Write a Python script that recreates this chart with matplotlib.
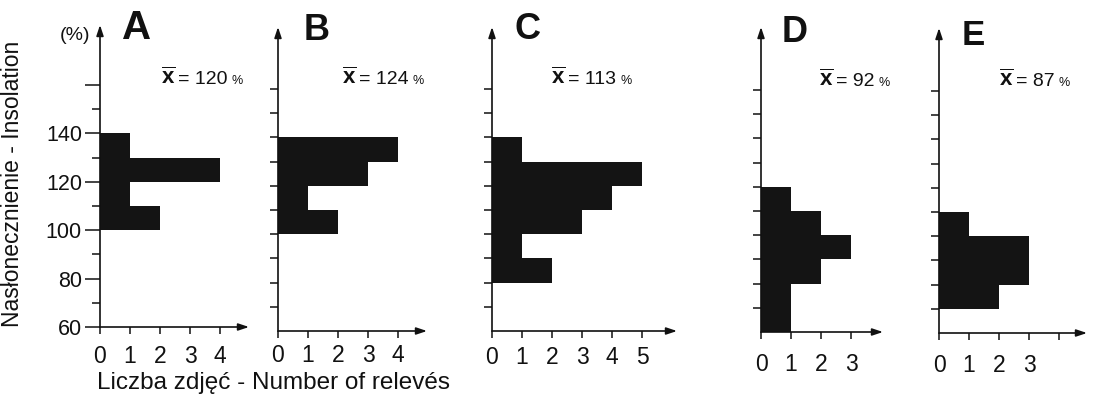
import matplotlib
matplotlib.use("Agg")
import matplotlib.pyplot as plt
from matplotlib.patches import ArrowStyle

plt.rcParams['font.family'] = ['Liberation Sans', 'DejaVu Sans']
plt.rcParams['mathtext.fontset'] = 'custom'
plt.rcParams['mathtext.bf'] = 'Liberation Sans:bold'
plt.rcParams['mathtext.rm'] = 'Liberation Sans'

# ---------------- data ----------------
panel_names = ["A", "B", "C", "D", "E"]
bins_A = [100, 110, 120, 130]
counts_A = [2, 1, 4, 1]
bins_B = [100, 110, 120, 130]
counts_B = [2, 1, 3, 4]
bins_C = [80, 90, 100, 110, 120, 130]
counts_C = [2, 1, 3, 4, 5, 1]
bins_D = [60, 70, 80, 90, 100, 110]
counts_D = [1, 1, 2, 3, 2, 1]
bins_E = [70, 80, 90, 100]
counts_E = [2, 3, 3, 1]
means = [120, 124, 113, 92, 87]
bin_width = 10

xticks_A = [0, 1, 2, 3, 4]
xticks_B = [0, 1, 2, 3, 4]
xticks_C = [0, 1, 2, 3, 4, 5]
xticks_D = [0, 1, 2, 3]
xticks_E = [0, 1, 2, 3, 4]
xticklabels_A = ["0", "1", "2", "3", "4"]
xticklabels_B = ["0", "1", "2", "3", "4"]
xticklabels_C = ["0", "1", "2", "3", "4", "5"]
xticklabels_D = ["0", "1", "2", "3"]
xticklabels_E = ["0", "1", "2", "3", ""]

ytick_major_A = [60, 80, 100, 120, 140, 160]
ytick_labels_A = ["60", "80", "100", "120", "140", ""]
ytick_minor_A = [70, 90, 110, 130, 150]
ytick_other = [70, 80, 90, 100, 110, 120, 130, 140, 150, 160]

ylabel = "Nasłonecznienie - Insolation"
xlabel = "Liczba zdjęć - Number of relevés"
unit_label = "(%)"

bins_all = [bins_A, bins_B, bins_C, bins_D, bins_E]
counts_all = [counts_A, counts_B, counts_C, counts_D, counts_E]
xticks_all = [xticks_A, xticks_B, xticks_C, xticks_D, xticks_E]
xtl_all = [xticklabels_A, xticklabels_B, xticklabels_C, xticklabels_D, xticklabels_E]

# ---------------- layout (pixels) ----------------
W, H = 1094, 397
Y0 = 60.0
XS = 30.0    # px per count
YS = 2.42    # px per percent
# origin x, origin y, x-arrow end, y-arrow top
geom = [
    (100, 327, 249, 25),
    (278, 331, 427, 27),
    (492, 331, 677, 27),
    (761, 332, 883, 27),
    (939, 333, 1087, 28),
]
letter_pos = [(122, 39, 29), (304, 40, 26), (514, 39, 26), (782, 42, 26), (962, 45, 25)]
mean_pos = [(161, 84), (342, 84), (551, 84), (819, 86), (999, 86)]
xlabel_pad = [8, 4.5, 5.5, 10, 10]

fig = plt.figure(figsize=(W / 100, H / 100), dpi=100)
fig.patch.set_facecolor("white")

def fx(px):
    return px / W

def fy(py):
    return 1 - py / H

arrow = ArrowStyle('-|>', head_length=0.9, head_width=0.3)
axes = []
for i, (ox, oy, xe, yt) in enumerate(geom):
    ax = fig.add_axes([fx(ox), fy(oy), (xe - ox) / W, (oy - yt) / H])
    ax.set_xlim(0, (xe - ox) / XS)
    ax.set_ylim(Y0, Y0 + (oy - yt) / YS)
    ax.patch.set_alpha(0)
    for s in ax.spines.values():
        s.set_visible(False)
    ax.barh(bins_all[i], counts_all[i], height=bin_width, align='edge',
            color='#141414', linewidth=0, zorder=1)
    # axis lines with arrow heads
    ax.annotate('', xy=(1, 0), xytext=(0, 0), xycoords='axes fraction',
                arrowprops=dict(arrowstyle=arrow, lw=1.2, color='#111111',
                                shrinkA=0, shrinkB=0, mutation_scale=7),
                annotation_clip=False, zorder=3)
    ax.annotate('', xy=(0, 1), xytext=(0, 0), xycoords='axes fraction',
                arrowprops=dict(arrowstyle=arrow, lw=1.2, color='#111111',
                                shrinkA=0, shrinkB=0, mutation_scale=7),
                annotation_clip=False, zorder=3)
    ax.set_xticks(xticks_all[i])
    ax.set_xticklabels(xtl_all[i])
    ax.tick_params(axis='x', direction='out', length=5, width=1.1,
                   labelsize=16.5, pad=xlabel_pad[i], colors='#111111')
    if i == 0:
        ax.set_yticks(ytick_major_A)
        ax.set_yticklabels(ytick_labels_A)
        ax.set_yticks(ytick_minor_A, minor=True)
        ax.tick_params(axis='y', which='major', direction='out', length=10.5,
                       width=1.1, labelsize=15.5, pad=2.5, colors='#111111')
        ax.tick_params(axis='y', which='minor', direction='out', length=5.5,
                       width=1.1, colors='#111111')
    else:
        ax.set_yticks(ytick_other)
        ax.set_yticklabels([])
        ax.tick_params(axis='y', direction='out', length=5.5, width=1.1,
                       colors='#111111')
    axes.append(ax)

# panel letters
for name, (lx, ly, fs) in zip(panel_names, letter_pos):
    fig.text(fx(lx), fy(ly), name, fontsize=fs, fontweight='bold',
             ha='left', va='baseline', color='#111111')

# mean labels
fig.canvas.draw()
renderer = fig.canvas.get_renderer()
for m, (mx, my) in zip(means, mean_pos):
    t1 = fig.text(fx(mx), fy(my), r"$\mathbf{\overline{x}}$", fontsize=16,
                  ha='left', va='baseline', color='#111111')
    r1 = t1.get_window_extent(renderer).x1
    t2 = fig.text((r1 + 3) / W, fy(my), f"= {m}", fontsize=14,
                  ha='left', va='baseline', color='#111111')
    r2 = t2.get_window_extent(renderer).x1
    fig.text((r2 + 4) / W, fy(my), "%", fontsize=9,
             ha='left', va='baseline', color='#111111')

# unit and axis titles
fig.text(fx(75), fy(35), unit_label, fontsize=14, ha='center', va='center',
         color='#111111')
fig.text(fx(13), fy(184), ylabel, fontsize=16.5, rotation=90, ha='center',
         va='center', color='#111111')
fig.text(fx(97), fy(383), xlabel, fontsize=17.5, ha='left', va='center',
         color='#111111')

fig.savefig("out.png", dpi=100, facecolor="white")
